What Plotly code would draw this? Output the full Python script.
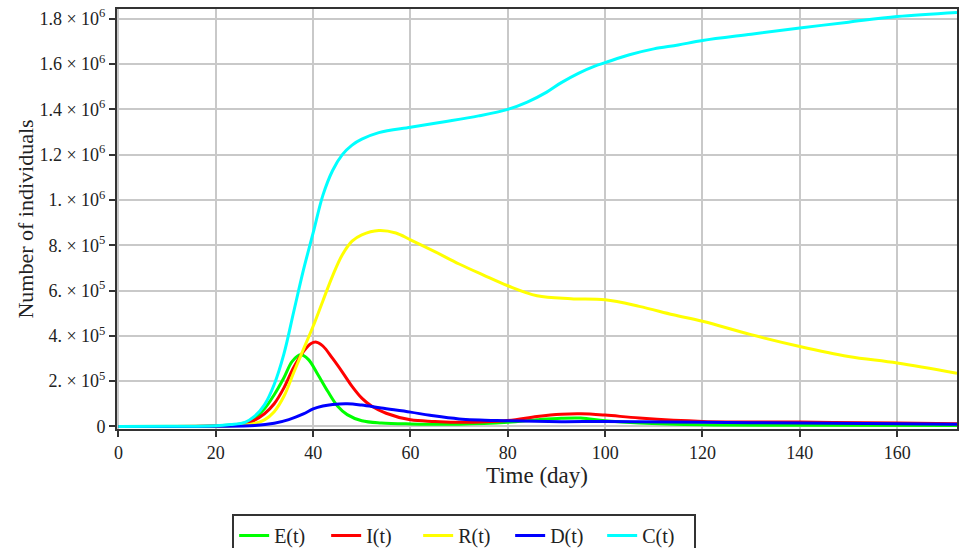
import plotly.graph_objects as go

# ---- data ----
days_E = [0, 20, 24, 27, 30, 32, 34, 35.7, 37.4, 39, 41, 43, 45, 47, 50, 54, 60, 70, 80, 86, 91, 95, 100, 107, 120, 140, 172.3]
E_vals = [0, 2000, 8000, 22000, 78000, 140000, 215000, 287000, 316000, 296000, 228000, 155000, 90000, 52000,
          25000, 15000, 11000, 10000, 18000, 29000, 36000, 37000, 25000, 15000, 7000, 5000, 4000]

days_I = [0, 20, 24, 27, 30, 32, 34, 36, 38, 39.5, 40.7, 42, 44, 46, 48, 50, 52, 55, 60, 65, 70, 80, 86, 91, 95,
          100, 107, 120, 140, 160, 172.3]
I_vals = [0, 2000, 6000, 18000, 56000, 100000, 170000, 260000, 330000, 365000, 372000, 355000, 300000, 240000,
          177000, 125000, 90000, 58000, 29000, 22000, 18000, 26000, 44000, 54000, 56000, 50000, 37000, 22000,
          19000, 15000, 12000]

days_R = [0, 20, 24, 27, 30, 32, 34, 36, 38, 40, 42, 44, 46, 48, 50, 53.5, 57, 60, 65, 70, 75, 80, 86, 93, 100,
          107, 114, 120, 130, 140, 150, 160, 172.3]
R_vals = [0, 1000, 3000, 8000, 29000, 65000, 133000, 237000, 340000, 442000, 554000, 665000, 758000, 818000,
          846000, 865000, 854000, 824000, 772000, 717000, 668000, 621000, 577000, 564000, 559000, 530000, 493000,
          464000, 405000, 353000, 309000, 280000, 235000]

days_D = [0, 20, 28, 32, 35, 38, 40, 42, 44, 47, 50, 54, 60, 64, 70, 80, 91, 100, 120, 140, 160, 172.3]
D_vals = [0, 500, 4000, 14000, 30000, 55000, 77000, 90000, 97000, 100000, 94000, 81000, 63000, 49000, 33000,
          25000, 21000, 22000, 18000, 15000, 12000, 9000]

days_C = [0, 10, 20, 23, 26, 28, 30, 32, 34, 36, 38, 40, 42, 44, 46, 48, 50, 53.5, 60, 67, 74, 80, 84, 88, 91,
          94.5, 98, 100, 105, 110, 115, 120, 130, 140, 150, 160, 172.3]
C_vals = [0, 500, 3000, 8000, 18000, 45000, 95000, 185000, 320000, 505000, 690000, 854000, 1020000, 1130000,
          1200000, 1242000, 1268000, 1297000, 1321000, 1345000, 1371000, 1400000, 1432000, 1476000, 1518000,
          1559000, 1592000, 1606000, 1641000, 1667000, 1684000, 1704000, 1732000, 1759000, 1785000, 1810000,
          1828000]

series_names = ["E(t)", "I(t)", "R(t)", "D(t)", "C(t)"]
series_colors = ["#00ff00", "#ff0000", "#ffff00", "#0000ff", "#00ffff"]

x_tick_vals = [0, 20, 40, 60, 80, 100, 120, 140, 160]
y_tick_vals = [0, 200000, 400000, 600000, 800000, 1000000, 1200000, 1400000, 1600000, 1800000]
y_tick_text = ["0", "2. × 10<sup>5</sup>", "4. × 10<sup>5</sup>", "6. × 10<sup>5</sup>", "8. × 10<sup>5</sup>",
               "1. × 10<sup>6</sup>", "1.2 × 10<sup>6</sup>", "1.4 × 10<sup>6</sup>", "1.6 × 10<sup>6</sup>",
               "1.8 × 10<sup>6</sup>"]

FONT = "Liberation Serif, Times New Roman, serif"

fig = go.Figure()
all_data = [(days_E, E_vals), (days_I, I_vals), (days_R, R_vals), (days_D, D_vals), (days_C, C_vals)]
for (xs, ys), name, col in zip(all_data, series_names, series_colors):
    fig.add_trace(go.Scatter(x=xs, y=ys, mode="lines", name=name,
                             line=dict(color=col, width=3, shape="spline", smoothing=1.0)))

axis_common = dict(
    showline=True, linecolor="#333333", linewidth=2, mirror=True,
    showgrid=True, gridcolor="#c9c9c9", gridwidth=1.5,
    zeroline=False, ticks="outside", ticklen=6, tickwidth=1.5, tickcolor="#333333",
    tickfont=dict(family=FONT, size=18, color="#222222"),
)

fig.update_layout(
    width=959, height=548,
    margin=dict(l=117, r=0, t=9, b=119),
    paper_bgcolor="white", plot_bgcolor="white",
    font=dict(family=FONT, color="#222222"),
    xaxis=dict(range=[-0.3, 172.3], tickvals=x_tick_vals,
               title=dict(text="Time (day)", font=dict(family=FONT, size=23, color="#222222"), standoff=4),
               **axis_common),
    yaxis=dict(range=[-11500, 1843000], tickvals=y_tick_vals, ticktext=y_tick_text,
               title=dict(text="Number of individuals", font=dict(family=FONT, size=22, color="#222222"), standoff=0),
               **axis_common),
    legend=dict(orientation="h", xref="container", yref="container", x=0.484, xanchor="center",
                y=1 - 514 / 548, yanchor="top",
                bordercolor="#333333", borderwidth=2, bgcolor="white",
                font=dict(family=FONT, size=20, color="#222222"),
                entrywidth=47, entrywidthmode="pixels", tracegroupgap=0),
    showlegend=True,
)

fig.write_html("out.html")
